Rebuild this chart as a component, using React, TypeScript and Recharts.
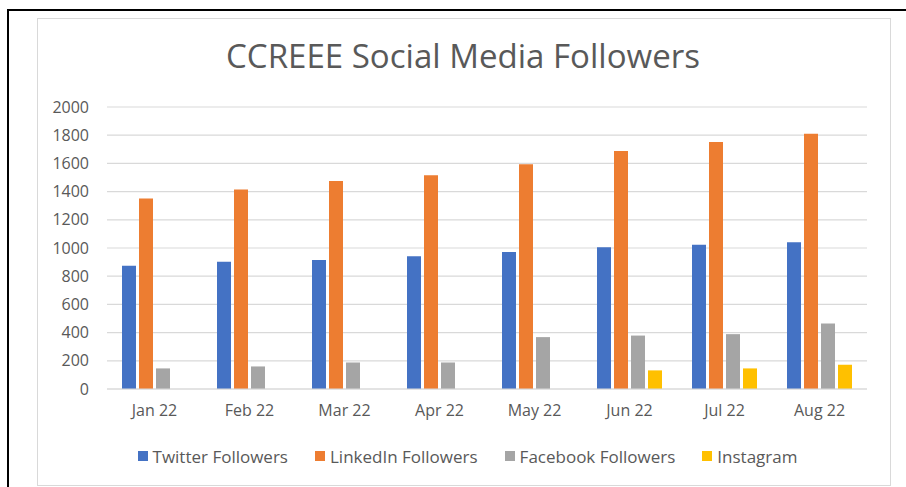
import React from "react";
import { BarChart, Bar, XAxis, YAxis, CartesianGrid, Legend } from "recharts";

const months = ["Jan 22", "Feb 22", "Mar 22", "Apr 22", "May 22", "Jun 22", "Jul 22", "Aug 22"];
const twitter = [875, 903, 915, 941, 972, 1005, 1023, 1040];
const linkedin = [1351, 1415, 1476, 1516, 1594, 1688, 1752, 1811];
const facebook = [146, 160, 188, 188, 368, 379, 389, 464];
const instagram = [null, null, null, null, null, 132, 146, 172];
const yTicks = [0, 200, 400, 600, 800, 1000, 1200, 1400, 1600, 1800, 2000];

const series = [
  { key: "twitter", name: "Twitter Followers", color: "#4472C4" },
  { key: "linkedin", name: "LinkedIn Followers", color: "#ED7D31" },
  { key: "facebook", name: "Facebook Followers", color: "#A5A5A5" },
  { key: "instagram", name: "Instagram", color: "#FFC000" },
];

const data = months.map((m, i) => ({
  month: m,
  twitter: twitter[i],
  linkedin: linkedin[i],
  facebook: facebook[i],
  instagram: instagram[i],
}));

const FONT = "'Open Sans', sans-serif";
const TEXT = "#595959";

const LegendContent = () => (
  <div
    style={{
      display: "flex",
      justifyContent: "center",
      alignItems: "center",
      height: 22,
      paddingLeft: 29,
      fontFamily: FONT,
      fontSize: 17,
      color: TEXT,
      whiteSpace: "nowrap",
    }}
  >
    {series.map((s, i) => (
      <div key={s.key} style={{ display: "flex", alignItems: "center", marginLeft: i === 0 ? 0 : 27 }}>
        <span style={{ width: 10, height: 10, background: s.color, display: "inline-block", marginRight: 5 }} />
        <span>{s.name}</span>
      </div>
    ))}
  </div>
);

export default function App() {
  return (
    <div style={{ position: "fixed", left: 0, top: 0, width: 906, height: 487, overflow: "hidden", background: "#fff" }}>
      <div
        style={{
          position: "absolute",
          left: 7,
          top: 9,
          width: 1000,
          height: 600,
          border: "2px solid #000",
        }}
      />
      <div
        style={{
          position: "absolute",
          left: 37,
          top: 18,
          width: 852,
          height: 466,
          border: "1px solid #d9d9d9",
          background: "#fff",
        }}
      />
      <svg style={{ position: "absolute", left: 0, top: 0 }} width={906} height={100}>
        <text
          x={463}
          y={68}
          textAnchor="middle"
          fontFamily={FONT}
          fontSize={32}
          fill={TEXT}
          textLength={474}
          lengthAdjust="spacingAndGlyphs"
        >
          CCREEE Social Media Followers
        </text>
      </svg>
      <div style={{ position: "absolute", left: 0, top: 0 }}>
        <BarChart
          width={906}
          height={487}
          data={data}
          margin={{ top: 107, right: 39, bottom: 46, left: 37 }}
          barCategoryGap={15}
          barGap={3}
        >
          <CartesianGrid vertical={false} stroke="#d9d9d9" strokeWidth={1.2} />
          <XAxis
            dataKey="month"
            axisLine={{ stroke: "#d9d9d9", strokeWidth: 1.2 }}
            tickLine={false}
            tickSize={0}
            tickMargin={16}
            height={30}
            tick={{ fill: TEXT, fontFamily: FONT, fontSize: 16 }}
          />
          <YAxis
            domain={[0, 2000]}
            ticks={yTicks}
            width={70}
            axisLine={false}
            tickLine={false}
            tickSize={0}
            tickMargin={18}
            tick={{ fill: TEXT, fontFamily: FONT, fontSize: 16 }}
          />
          <Legend
            verticalAlign="bottom"
            height={22}
            content={<LegendContent />}
            wrapperStyle={{ left: 0, width: 906, bottom: 20 }}
          />
          {series.map((s) => (
            <Bar key={s.key} dataKey={s.key} name={s.name} fill={s.color} isAnimationActive={false} />
          ))}
        </BarChart>
      </div>
    </div>
  );
}
